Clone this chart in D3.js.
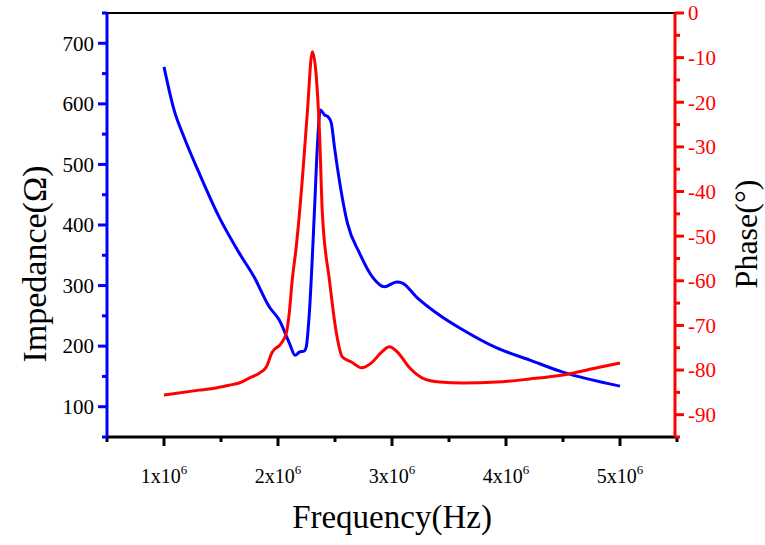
<!DOCTYPE html>
<html><head><meta charset="utf-8">
<script src="https://cdn.jsdelivr.net/npm/d3@7"></script>
<style>body{margin:0;background:#fff}svg{display:block}</style>
</head><body>
<script>
// Impedance (blue, left axis) — frequency in Hz, value in Ohm
const impFreq = [1.0e6,1.088e6,1.176e6,1.308e6,1.484e6,1.659e6,1.791e6,1.923e6,2.011e6,2.10e6,2.15e6,2.187e6,2.231e6,2.248e6,2.275e6,2.319e6,2.345e6,2.371e6,2.407e6,2.442e6,2.468e6,2.495e6,2.538e6,2.609e6,2.714e6,2.829e6,2.934e6,3.04e6,3.092e6,3.215e6,3.418e6,3.62e6,3.919e6,4.209e6,4.499e6,5.0e6];
const impValue = [661,590,545,486,413,354,314,265,243,205,185,190,192,199,255,420,529,590,582,578,568,529,474,403,354,314,298,306,304,281,251,227,197,177,157,134];
// Phase (red, right axis) — degrees
const phaseFreq = [1.0e6,1.308e6,1.457e6,1.571e6,1.659e6,1.747e6,1.835e6,1.897e6,1.949e6,2.029e6,2.073e6,2.099e6,2.125e6,2.16e6,2.213e6,2.257e6,2.301e6,2.363e6,2.389e6,2.451e6,2.512e6,2.565e6,2.644e6,2.732e6,2.82e6,2.908e6,2.978e6,3.048e6,3.154e6,3.268e6,3.418e6,3.62e6,3.919e6,4.209e6,4.499e6,4.798e6,5.0e6];
const phaseValue = [-85.6,-84.5,-84.0,-83.4,-82.9,-81.8,-80.7,-79.3,-76.0,-74.0,-71.7,-67.2,-59.8,-52.4,-37.4,-22.4,-8.7,-26.2,-44.8,-59.8,-71.7,-77.1,-78.2,-79.5,-78.4,-76.0,-74.8,-76.0,-79.5,-81.8,-82.7,-82.9,-82.7,-82.0,-81.1,-79.5,-78.4];
const xTicks = [1e6,2e6,3e6,4e6,5e6];
const xTickLabels = ["1x10","2x10","3x10","4x10","5x10"];
const leftTicks = [100,200,300,400,500,600,700];
const rightTicks = [0,-10,-20,-30,-40,-50,-60,-70,-80,-90];

const W = 765, H = 545;
const L = 107, R = 677, T = 13, B = 437;
const svg = d3.select("body").append("svg").attr("width", W).attr("height", H);
const font = "'Liberation Serif','Times New Roman',serif";

const x = d3.scaleLinear().domain([0.5e6, 5.5e6]).range([L, R]);
const yL = d3.scaleLinear().domain([50, 750]).range([B, T]);
const yR = d3.scaleLinear().domain([-95, 0]).range([B, T]);

// top border
svg.append("line").attr("x1", L).attr("x2", R).attr("y1", T).attr("y2", T)
  .attr("stroke", "#000").attr("stroke-width", 2);

// bottom axis
const gx = svg.append("g").attr("transform", `translate(0,${B})`);
gx.append("line").attr("x1", L).attr("x2", R).attr("stroke", "#000").attr("stroke-width", 3);
const xMinor = d3.range(0.5e6, 5.51e6, 0.5e6).filter(v => !xTicks.includes(v));
gx.selectAll(".mn").data(xMinor).join("line")
  .attr("x1", d => x(d)).attr("x2", d => x(d)).attr("y1", 0).attr("y2", 5)
  .attr("stroke", "#000").attr("stroke-width", 3);
gx.selectAll(".mj").data(xTicks).join("line")
  .attr("x1", d => x(d)).attr("x2", d => x(d)).attr("y1", 0).attr("y2", 9)
  .attr("stroke", "#000").attr("stroke-width", 3);
const xl = gx.selectAll(".lbl").data(xTicks).join("text")
  .attr("x", d => x(d)).attr("y", 46).attr("text-anchor", "middle")
  .attr("font-family", font).attr("font-size", 20).attr("fill", "#000");
xl.append("tspan").text((d, i) => xTickLabels[i]);
xl.append("tspan").attr("dy", -9).attr("font-size", 13).text("6");

// left axis (blue)
const gl = svg.append("g").attr("transform", `translate(${L},0)`);
gl.append("line").attr("y1", T).attr("y2", B).attr("stroke", "#0000ff").attr("stroke-width", 3);
const lMinor = d3.range(50, 751, 50).filter(v => !leftTicks.includes(v));
gl.selectAll(".mn").data(lMinor).join("line")
  .attr("y1", d => yL(d)).attr("y2", d => yL(d)).attr("x1", 0).attr("x2", -5)
  .attr("stroke", "#0000ff").attr("stroke-width", 3);
gl.selectAll(".mj").data(leftTicks).join("line")
  .attr("y1", d => yL(d)).attr("y2", d => yL(d)).attr("x1", 0).attr("x2", -9)
  .attr("stroke", "#0000ff").attr("stroke-width", 3);
gl.selectAll(".lbl").data(leftTicks).join("text")
  .attr("x", -13).attr("y", d => yL(d)).attr("dy", "0.35em").attr("text-anchor", "end")
  .attr("font-family", font).attr("font-size", 21).attr("fill", "#000").text(d => d);

// right axis (red)
const gr = svg.append("g").attr("transform", `translate(${R - 2},0)`);
gr.append("line").attr("y1", T).attr("y2", B).attr("stroke", "#ff0000").attr("stroke-width", 3);
const rMinor = d3.range(-95, 0.1, 5).filter(v => !rightTicks.includes(v));
gr.selectAll(".mn").data(rMinor).join("line")
  .attr("y1", d => yR(d)).attr("y2", d => yR(d)).attr("x1", 0).attr("x2", 5)
  .attr("stroke", "#ff0000").attr("stroke-width", 3);
gr.selectAll(".mj").data(rightTicks).join("line")
  .attr("y1", d => yR(d)).attr("y2", d => yR(d)).attr("x1", 0).attr("x2", 9)
  .attr("stroke", "#ff0000").attr("stroke-width", 3);
gr.selectAll(".lbl").data(rightTicks).join("text")
  .attr("x", 13).attr("y", d => yR(d)).attr("dy", "0.35em").attr("text-anchor", "start")
  .attr("font-family", font).attr("font-size", 21).attr("fill", "#ff0000").text(d => d);

// lines
const impData = impFreq.map((f, i) => [f, impValue[i]]);
const phData = phaseFreq.map((f, i) => [f, phaseValue[i]]);
svg.append("path").datum(impData)
  .attr("d", d3.line().x(d => x(d[0])).y(d => yL(d[1])).curve(d3.curveMonotoneX))
  .attr("fill", "none").attr("stroke", "#0000ff").attr("stroke-width", 3).attr("stroke-linejoin", "round");
svg.append("path").datum(phData)
  .attr("d", d3.line().x(d => x(d[0])).y(d => yR(d[1])).curve(d3.curveMonotoneX))
  .attr("fill", "none").attr("stroke", "#ff0000").attr("stroke-width", 3).attr("stroke-linejoin", "round");

// titles
svg.append("text").attr("x", (L + R) / 2).attr("y", 528).attr("text-anchor", "middle")
  .attr("font-family", font).attr("font-size", 33).attr("fill", "#000").text("Frequency(Hz)");
svg.append("text").attr("transform", `translate(46,264) rotate(-90)`)
  .attr("text-anchor", "middle")
  .attr("font-family", font).attr("font-size", 34).attr("fill", "#000").text("Impedance(Ω)");
svg.append("text").attr("transform", `translate(757,234) rotate(-90)`)
  .attr("text-anchor", "middle")
  .attr("font-family", font).attr("font-size", 32).attr("fill", "#000").text("Phase(°)");
</script>
</body></html>
